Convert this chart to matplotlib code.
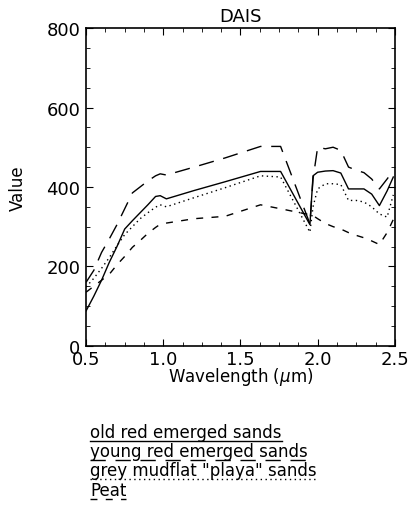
import matplotlib
matplotlib.use("Agg")
import matplotlib.pyplot as plt
from matplotlib.ticker import MultipleLocator
from matplotlib.lines import Line2D

# wavelength (um) of the sampled bands
wavelength = [0.50, 0.55, 0.60, 0.65, 0.70, 0.75, 0.80, 0.85, 0.90, 0.95,
              0.98, 1.02, 1.20, 1.40, 1.63, 1.76, 1.95, 1.97, 2.00, 2.05,
              2.10, 2.15, 2.20, 2.25, 2.30, 2.35, 2.40, 2.45, 2.49]

old_red = [88, 125, 165, 210, 250, 294, 315, 335, 355, 376,
           378, 370, 391, 413, 439, 439, 305, 428, 437, 440,
           441, 435, 395, 395, 395, 382, 353, 390, 425]

young_red = [160, 190, 235, 269, 305, 345, 385, 400, 415, 428,
             433, 430, 450, 473, 502, 502, 307, 420, 500, 496,
             500, 492, 450, 442, 436, 420, 395, 420, 441]

grey_mudflat = [148, 170, 195, 222, 252, 280, 300, 320, 335, 349,
                355, 350, 373, 398, 428, 425, 286, 350, 395, 408,
                408, 406, 366, 366, 362, 350, 332, 324, 380]

peat = [135, 150, 165, 180, 204, 225, 248, 265, 283, 298,
        306, 309, 320, 326, 355, 345, 330, 328, 320, 308,
        300, 294, 285, 278, 272, 264, 255, 285, 318]

labels = ['old red emerged sands', 'young red emerged sands',
          'grey mudflat "playa" sands', 'Peat']
styles = ['-', (0, (11, 7)), (0, (1, 2.5)), (0, (5, 6))]

fig = plt.figure(figsize=(4.1, 5.1), dpi=100)
ax = fig.add_axes([0.21, 0.32, 0.753, 0.623])

series = [old_red, young_red, grey_mudflat, peat]
for vals, ls in zip(series, styles):
    ax.plot(wavelength, vals, color='black', linestyle=ls, linewidth=1.0)

ax.set_xlim(0.5, 2.5)
ax.set_ylim(0, 800)
ax.xaxis.set_major_locator(MultipleLocator(0.5))
ax.xaxis.set_minor_locator(MultipleLocator(0.125))
ax.yaxis.set_major_locator(MultipleLocator(200))
ax.yaxis.set_minor_locator(MultipleLocator(50))
ax.xaxis.set_major_formatter(matplotlib.ticker.FormatStrFormatter('%.1f'))
ax.tick_params(which='both', direction='in', top=True, right=True,
               labelsize=13, pad=3)
ax.tick_params(axis='y', pad=4)
ax.tick_params(which='major', length=5)
ax.tick_params(which='minor', length=3)
for sp in ax.spines.values():
    sp.set_linewidth(1.2)

ax.set_title('DAIS', fontsize=13, pad=5)
ax.set_ylabel('Value', fontsize=12, labelpad=14)
ax.set_xlabel(r'Wavelength ($\mu$m)', fontsize=12, labelpad=-2)

# legend: text with underline in the line style
baselines = [438, 457, 476, 496]
texts = []
for lab, yb in zip(labels, baselines):
    t = fig.text(90 / 410, 1 - yb / 510, lab, fontsize=12,
                 va='baseline', ha='left')
    texts.append(t)

fig.canvas.draw()
inv = fig.transFigure.inverted()
for t, ls, yb in zip(texts, styles, baselines):
    bb = t.get_window_extent()
    (x0, _), (x1, _) = inv.transform([[bb.x0, 0], [bb.x1, 0]])
    yu = 1 - (yb + 4) / 510
    fig.add_artist(Line2D([x0, x1], [yu, yu], color='black',
                          linestyle=ls, linewidth=1.0,
                          transform=fig.transFigure))

fig.savefig('out.png', dpi=100)
